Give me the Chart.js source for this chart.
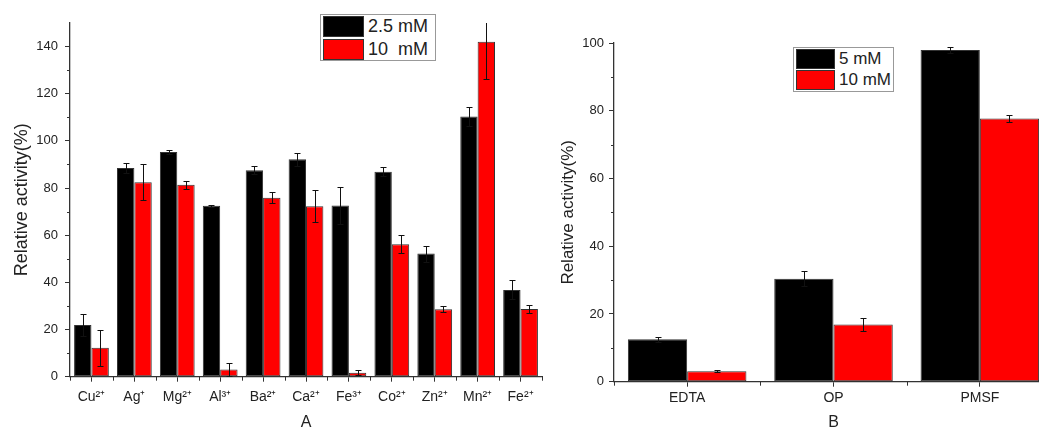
<!DOCTYPE html>
<html>
<head>
  <meta charset="utf-8">
  <title>Relative activity</title>
  <script src="https://cdn.jsdelivr.net/npm/chart.js"></script>
  <style>
    html, body { margin: 0; padding: 0; background: #fff; overflow: hidden; }
    body { width: 1039px; height: 428px; position: relative; font-family: 'Liberation Sans', Arial, sans-serif; }
    canvas { position: absolute; top: 0; }
    #chartA { left: 0; }
    #chartB { left: 520px; }
    .legend { position: absolute; border: 1px solid #999; background: #fff; color: #222; box-sizing: border-box; }
    .legend .row { position: absolute; display: flex; align-items: center; white-space: pre; }
    .legend .sw { border: 1px solid #333; box-sizing: border-box; }
  </style>
</head>
<body>
  <canvas id="chartA" width="550" height="432"></canvas>
  <canvas id="chartB" width="540" height="432"></canvas>
  <div id="legendA" class="legend"></div>
  <div id="legendB" class="legend"></div>

  <script>
    // panel A: metal ions
    const ions = ['Cu²⁺', 'Ag⁺', 'Mg²⁺', 'Al³⁺', 'Ba²⁺', 'Ca²⁺', 'Fe³⁺', 'Co²⁺', 'Zn²⁺', 'Mn²⁺', 'Fe²⁺'];
    const ion25 = [21.9, 88.5, 95.3, 72.5, 87.6, 92.2, 72.6, 86.9, 52.2, 110.4, 36.8];
    const ion25Err = [4.7, 2.1, 0.7, 0.5, 1.7, 2.8, 7.8, 1.9, 3.4, 4.0, 4.0];
    const ion10 = [12.3, 82.5, 81.4, 3.1, 75.9, 72.3, 1.7, 56.2, 28.6, 142.1, 28.7];
    const ion10Err = [7.6, 7.6, 1.7, 2.8, 2.4, 6.7, 1.1, 3.7, 1.3, 16, 1.8];

    // panel B: inhibitors
    const inhibitors = ['EDTA', 'OP', 'PMSF'];
    const inh5 = [12.5, 30.4, 97.9];
    const inh5Err = [0.7, 2.2, 0.8];
    const inh10 = [3.1, 16.9, 77.7];
    const inh10Err = [0.3, 1.8, 1.0];

    const FONT = "'Liberation Sans', Arial, sans-serif";
    const INK = '#222';

    const errorBars = {
      id: 'errorBars',
      afterDatasetsDraw(chart) {
        const { ctx, chartArea, scales: { y } } = chart;
        ctx.save();
        ctx.beginPath();
        ctx.rect(chartArea.left, chartArea.top, chartArea.width, chartArea.height);
        ctx.clip();
        ctx.strokeStyle = '#111';
        ctx.lineWidth = 1;
        chart.data.datasets.forEach((ds, di) => {
          chart.getDatasetMeta(di).data.forEach((bar, i) => {
            const v = ds.data[i], e = ds.errors[i];
            const x = Math.round(bar.x) + 0.5;
            const top = Math.round(y.getPixelForValue(v + e)) + 0.5;
            const bot = Math.round(y.getPixelForValue(v - e)) + 0.5;
            ctx.beginPath();
            ctx.moveTo(x, top); ctx.lineTo(x, bot);
            ctx.moveTo(x - 3, top); ctx.lineTo(x + 3, top);
            ctx.moveTo(x - 3, bot); ctx.lineTo(x + 3, bot);
            ctx.stroke();
          });
        });
        ctx.restore();
      }
    };

    // ticks between categories and minor ticks on y
    const extraTicks = {
      id: 'extraTicks',
      afterDraw(chart) {
        const { ctx, chartArea, scales: { x, y } } = chart;
        ctx.save();
        ctx.strokeStyle = '#333';
        ctx.lineWidth = 1;
        ctx.beginPath();
        const n = chart.data.labels.length;
        for (let i = 0; i <= n; i++) {
          const px = Math.round(x.getPixelForValue(i - 0.5)) + 0.5;
          ctx.moveTo(px, chartArea.bottom);
          ctx.lineTo(px, chartArea.bottom + 4);
        }
        for (let v = 10; v < y.max; v += 20) {
          const py = Math.round(y.getPixelForValue(v)) + 0.5;
          ctx.moveTo(chartArea.left - 3, py);
          ctx.lineTo(chartArea.left, py);
        }
        ctx.stroke();
        ctx.restore();
      }
    };

    function makeChart(id, labels, sets, o) {
      return new Chart(document.getElementById(id), {
        type: 'bar',
        data: {
          labels: labels,
          datasets: sets.map(s => ({
            label: s.label,
            data: s.data,
            errors: s.errors,
            backgroundColor: s.color,
            borderColor: '#333',
            borderWidth: 1,
            borderSkipped: false,
            categoryPercentage: 0.81,
            barPercentage: 1
          }))
        },
        options: {
          responsive: false,
          animation: false,
          events: [],
          layout: { padding: { top: o.top, right: o.right, left: 0, bottom: 0 } },
          plugins: { legend: { display: false }, tooltip: { enabled: false } },
          scales: {
            x: {
              afterFit: s => { s.height = o.xHeight; },
              grid: { drawOnChartArea: false, offset: false, tickLength: 5, color: '#333' },
              border: { display: true, color: '#333', width: 1.3 },
              ticks: { color: INK, padding: o.xPad, maxRotation: 0, autoSkip: false, font: { family: FONT, size: 14 } },
              title: { display: true, text: o.xTitle, color: INK, padding: { top: 0, bottom: 0 }, font: { family: FONT, size: 16 } }
            },
            y: {
              min: 0,
              max: o.yMax,
              afterFit: s => { s.width = o.yWidth; },
              grid: { drawOnChartArea: false, tickLength: 5, color: '#333' },
              border: { display: true, color: '#333', width: 1.3 },
              ticks: { stepSize: 20, includeBounds: false, color: INK, padding: o.yPad, font: { family: FONT, size: 13 } },
              title: { display: true, text: 'Relative activity(%)', color: INK, padding: { top: o.titlePad, bottom: 0 }, font: { family: FONT, size: o.titleSize } }
            }
          }
        },
        plugins: [errorBars, extraTicks]
      });
    }

    function makeLegend(chart, id, box, sw, fontSize, rowGap) {
      const el = document.getElementById(id);
      el.style.left = box.left + 'px';
      el.style.top = box.top + 'px';
      el.style.width = box.width + 'px';
      el.style.height = box.height + 'px';
      el.style.fontSize = fontSize + 'px';
      chart.data.datasets.forEach((ds, i) => {
        const row = document.createElement('div');
        row.className = 'row';
        row.style.left = '2px';
        row.style.top = (1 + i * rowGap) + 'px';
        row.style.height = sw.h + 'px';
        const s = document.createElement('div');
        s.className = 'sw';
        s.style.width = sw.w + 'px';
        s.style.height = sw.h + 'px';
        s.style.background = ds.backgroundColor;
        s.style.marginRight = '4px';
        const t = document.createElement('span');
        t.textContent = ds.label;
        row.appendChild(s);
        row.appendChild(t);
        el.appendChild(row);
      });
    }

    const chartA = makeChart('chartA', ions, [
      { label: '2.5 mM', data: ion25, errors: ion25Err, color: '#000000' },
      { label: '10  mM', data: ion10, errors: ion10Err, color: '#ff0000' }
    ], { top: 23, right: 8, xHeight: 55.3, yWidth: 70, yMax: 150, xPad: 7, yPad: 7, xTitle: 'A', titlePad: 11, titleSize: 18 });

    const chartB = makeChart('chartB', inhibitors, [
      { label: '5 mM', data: inh5, errors: inh5Err, color: '#000000' },
      { label: '10 mM', data: inh10, errors: inh10Err, color: '#ff0000' }
    ], { top: 43, right: 7, xHeight: 50.3, yWidth: 94, yMax: 100, xPad: 3, yPad: 5, xTitle: 'B', titlePad: 38, titleSize: 17 });

    makeLegend(chartA, 'legendA', { left: 320, top: 14, width: 116, height: 47 }, { w: 41, h: 21 }, 18, 23);
    makeLegend(chartB, 'legendB', { left: 793, top: 47, width: 101, height: 45 }, { w: 39, h: 20 }, 17, 21);
  </script>
</body>
</html>
